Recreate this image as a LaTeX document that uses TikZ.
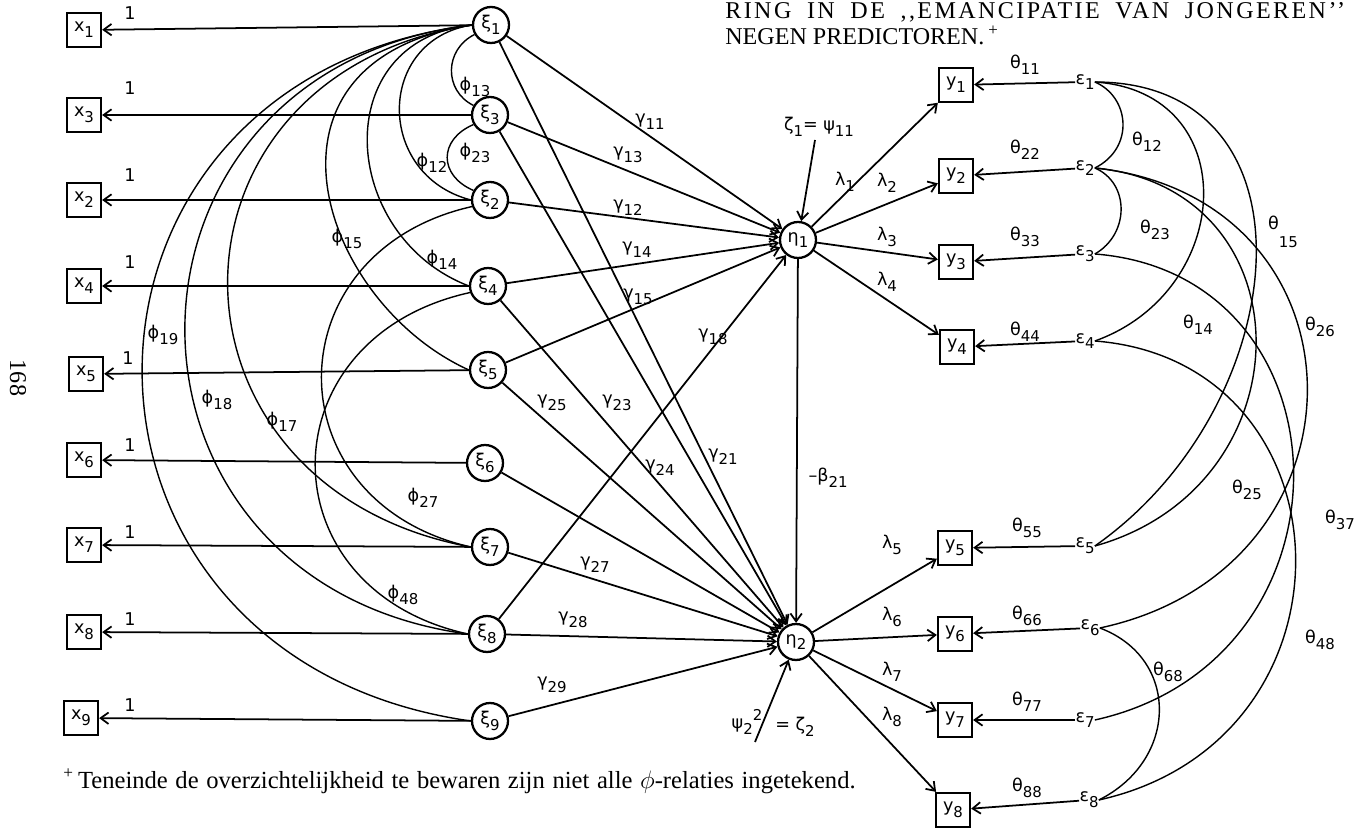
\documentclass[tikz,border=0pt]{standalone}
\usepackage{fontspec}
\setmainfont{Liberation Serif}
\newfontfamily\typfont{DejaVu Sans}
\newfontfamily\spacedfont[LetterSpace=10]{Liberation Serif}
\usetikzlibrary{arrows.meta}
\newcommand{\ix}[2]{#1\raisebox{-0.6ex}{\fontsize{8.5}{10}\selectfont #2}}
\begin{document}
\begin{tikzpicture}[x=0.02cm, y=-0.02cm,
	every node/.style={font=\typfont\fontsize{10}{12}\selectfont},
	obs/.style={draw, line width=1.3pt, minimum size=0.68cm, inner sep=0pt},
	lat/.style={draw, circle, line width=1.3pt, minimum size=0.72cm, inner sep=0pt},
	lab/.style={inner sep=0pt},
	arr/.style={line width=1pt, -{Straight Barb[length=4.5pt,width=6.5pt]}},
	cov/.style={line width=0.8pt},
	serif/.style={font=\rmfamily\fontsize{13.7}{16}\selectfont, inner sep=0pt}]
	\useasboundingbox (0,0) rectangle (1359,830);
	\node[serif, font=\spacedfont\fontsize{13.7}{16}\selectfont, anchor=base west] (ttl1) at (725,19) {\makebox[12.4cm][s]{RING IN DE ,,EMANCIPATIE VAN JONGEREN’’}};
	\node[serif, anchor=base west] (ttl2) at (725,45) {NEGEN PREDICTOREN.\,\textsuperscript{+}};
	\node[serif, rotate=-90] (pg) at (18,378) {168};
	\node[serif, font=\rmfamily\fontsize{14}{17}\selectfont, anchor=base west] (note) at (63,788) {\makebox[15.85cm][s]{\textsuperscript{+}\,Teneinde de overzichtelijkheid te bewaren zijn niet alle $\phi$-relaties ingetekend.}};
	\node[obs] (x1) at (84,30) {\ix{x}{1}};
	\node[obs] (x3) at (84,115) {\ix{x}{3}};
	\node[obs] (x2) at (84,200) {\ix{x}{2}};
	\node[obs] (x4) at (84,286) {\ix{x}{4}};
	\node[obs] (x5) at (86,374) {\ix{x}{5}};
	\node[obs] (x6) at (84,460) {\ix{x}{6}};
	\node[obs] (x7) at (84,545) {\ix{x}{7}};
	\node[obs] (x8) at (84,632) {\ix{x}{8}};
	\node[obs] (x9) at (81,718) {\ix{x}{9}};
	\node[lat] (xi1) at (491,25) {\ix{ξ}{1}};
	\node[lat] (xi3) at (490,115) {\ix{ξ}{3}};
	\node[lat] (xi2) at (490,200) {\ix{ξ}{2}};
	\node[lat] (xi4) at (488,286) {\ix{ξ}{4}};
	\node[lat] (xi5) at (488,370) {\ix{ξ}{5}};
	\node[lat] (xi6) at (485,463) {\ix{ξ}{6}};
	\node[lat] (xi7) at (490,547) {\ix{ξ}{7}};
	\node[lat] (xi8) at (487,634) {\ix{ξ}{8}};
	\node[lat] (xi9) at (490,721) {\ix{ξ}{9}};
	\node[lat] (eta1) at (798,240) {\ix{η}{1}};
	\node[lat] (eta2) at (796,642) {\ix{η}{2}};
	\node[obs] (y1) at (956,85) {\ix{y}{1}};
	\node[obs] (y2) at (956,176) {\ix{y}{2}};
	\node[obs] (y3) at (956,262) {\ix{y}{3}};
	\node[obs] (y4) at (957,347) {\ix{y}{4}};
	\node[obs] (y5) at (955,548) {\ix{y}{5}};
	\node[obs] (y6) at (955,634) {\ix{y}{6}};
	\node[obs] (y7) at (955,720) {\ix{y}{7}};
	\node[obs] (y8) at (953,810) {\ix{y}{8}};
	\node[lab] (e1) at (1085,82) {\ix{ε}{1}};
	\node[lab] (e2) at (1085,168) {\ix{ε}{2}};
	\node[lab] (e3) at (1085,254) {\ix{ε}{3}};
	\node[lab] (e4) at (1085,341) {\ix{ε}{4}};
	\node[lab] (e5) at (1085,546) {\ix{ε}{5}};
	\node[lab] (e6) at (1090,628) {\ix{ε}{6}};
	\node[lab] (e7) at (1085,720) {\ix{ε}{7}};
	\node[lab] (e8) at (1089,800) {\ix{ε}{8}};
	\draw[arr] (xi1) -- (x1);
	\draw[arr] (xi3) -- (x3);
	\draw[arr] (xi2) -- (x2);
	\draw[arr] (xi4) -- (x4);
	\draw[arr] (xi5) -- (x5);
	\draw[arr] (xi6) -- (x6);
	\draw[arr] (xi7) -- (x7);
	\draw[arr] (xi8) -- (x8);
	\draw[arr] (xi9) -- (x9);
	\node[lab] at (130,13) {1};
	\node[lab] at (130,88) {1};
	\node[lab] at (130,175) {1};
	\node[lab] at (130,262) {1};
	\node[lab] at (128,358) {1};
	\node[lab] at (130,445) {1};
	\node[lab] at (130,532) {1};
	\node[lab] at (130,619) {1};
	\node[lab] at (130,705) {1};
	\draw[cov] (xi1.210) .. controls +(-30,15) and +(-30,-15) .. (xi3.150);
	\draw[cov] (xi3.210) .. controls +(-35,15) and +(-35,-15) .. (xi2.150);
	\draw[cov] (xi1.west) .. controls +(-96,15) and +(-96,-25) .. (xi2.west);
	\draw[cov] (xi1.west) .. controls +(-145,15) and +(-130,-50) .. (xi4.west);
	\draw[cov] (xi1.west) .. controls +(-232,35) and +(-150,-68) .. (xi5.west);
	\draw[cov] (xi1.west) .. controls +(-325,50) and +(-325,-60) .. (xi7.west);
	\draw[cov] (xi1.west) .. controls +(-380,45) and +(-380,-51) .. (xi8.west);
	\draw[cov] (xi1.west) .. controls +(-439,55) and +(-439,-62) .. (xi9.west);
	\draw[cov] (xi2.200) .. controls +(-200,45) and +(-200,-45) .. (xi7.west);
	\draw[cov] (xi4.200) .. controls +(-205,45) and +(-205,-45) .. (xi8.west);
	\node[lab] at (475,87) {\ix{ϕ}{13}};
	\node[lab] at (475,153) {\ix{ϕ}{23}};
	\node[lab] at (432,163) {\ix{ϕ}{12}};
	\node[lab] at (442,260) {\ix{ϕ}{14}};
	\node[lab] at (347,239) {\ix{ϕ}{15}};
	\node[lab] at (163,335) {\ix{ϕ}{19}};
	\node[lab] at (217,400) {\ix{ϕ}{18}};
	\node[lab] at (282,422) {\ix{ϕ}{17}};
	\node[lab] at (423,498) {\ix{ϕ}{27}};
	\node[lab] at (403,595) {\ix{ϕ}{48}};
	\draw[arr] (xi1) -- (eta1);
	\draw[arr] (xi3) -- (eta1);
	\draw[arr] (xi2) -- (eta1);
	\draw[arr] (xi4) -- (eta1);
	\draw[arr] (xi5) -- (eta1);
	\draw[arr] (xi8) -- (eta1);
	\draw[arr] (xi1) -- (eta2);
	\draw[arr] (xi3) -- (eta2);
	\draw[arr] (xi4) -- (eta2);
	\draw[arr] (xi5) -- (eta2);
	\draw[arr] (xi6) -- (eta2);
	\draw[arr] (xi7) -- (eta2);
	\draw[arr] (xi8) -- (eta2);
	\draw[arr] (xi9) -- (eta2);
	\node[lab] at (650,122) {\ix{γ}{11}};
	\node[lab] at (628,155) {\ix{γ}{13}};
	\node[lab] at (628,208) {\ix{γ}{12}};
	\node[lab] at (637,250) {\ix{γ}{14}};
	\node[lab] at (638,297) {\ix{γ}{15}};
	\node[lab] at (713,337) {\ix{γ}{18}};
	\node[lab] at (723,457) {\ix{γ}{21}};
	\node[lab] at (617,403) {\ix{γ}{23}};
	\node[lab] at (660,468) {\ix{γ}{24}};
	\node[lab] at (552,403) {\ix{γ}{25}};
	\node[lab] at (595,565) {\ix{γ}{27}};
	\node[lab] at (573,620) {\ix{γ}{28}};
	\node[lab] at (552,685) {\ix{γ}{29}};
	\draw[arr] (eta1) -- (eta2);
	\node[lab] at (828,478) {\ix{–β}{21}};
	\coordinate (z1) at (815,140);
	\draw[arr] (z1) -- (eta1);
	\node[lab] at (819,127) {\ix{ζ}{1}= \ix{ψ}{11}};
	\coordinate (z2) at (755,742);
	\draw[arr] (z2) -- (eta2);
	\node[lab] at (747,722) {\ix{ψ}{2}\raisebox{0.9ex}{\fontsize{8.5}{10}\selectfont 2}};
	\node[lab] at (795,727) {= \ix{ζ}{2}};
	\draw[arr] (eta1) -- (y1);
	\draw[arr] (eta1) -- (y2);
	\draw[arr] (eta1) -- (y3);
	\draw[arr] (eta1) -- (y4);
	\draw[arr] (eta2) -- (y5);
	\draw[arr] (eta2) -- (y6);
	\draw[arr] (eta2) -- (y7);
	\draw[arr] (eta2) -- (y8);
	\node[lab] at (845,182) {\ix{λ}{1}};
	\node[lab] at (887,183) {\ix{λ}{2}};
	\node[lab] at (887,237) {\ix{λ}{3}};
	\node[lab] at (887,282) {\ix{λ}{4}};
	\node[lab] at (892,545) {\ix{λ}{5}};
	\node[lab] at (892,617) {\ix{λ}{6}};
	\node[lab] at (892,672) {\ix{λ}{7}};
	\node[lab] at (892,717) {\ix{λ}{8}};
	\draw[arr] (e1) -- (y1);
	\draw[arr] (e2) -- (y2);
	\draw[arr] (e3) -- (y3);
	\draw[arr] (e4) -- (y4);
	\draw[arr] (e5) -- (y5);
	\draw[arr] (e6) -- (y6);
	\draw[arr] (e7) -- (y7);
	\draw[arr] (e8) -- (y8);
	\node[lab] at (1025,65) {\ix{θ}{11}};
	\node[lab] at (1025,150) {\ix{θ}{22}};
	\node[lab] at (1025,237) {\ix{θ}{33}};
	\node[lab] at (1025,332) {\ix{θ}{44}};
	\node[lab] at (1027,528) {\ix{θ}{55}};
	\node[lab] at (1027,616) {\ix{θ}{66}};
	\node[lab] at (1027,702) {\ix{θ}{77}};
	\node[lab] at (1027,788) {\ix{θ}{88}};
	\draw[cov] (e1.east) .. controls +(35,15) and +(40,-20) .. (e2.east);
	\draw[cov] (e2.east) .. controls +(35,15) and +(35,-20) .. (e3.east);
	\draw[cov] (e1.east) .. controls +(150,10) and +(140,-50) .. (e4.east);
	\draw[cov] (e1.east) .. controls +(230,0) and +(200,-140) .. (e5.east);
	\draw[cov] (e2.east) .. controls +(215,20) and +(215,-60) .. (e5.east);
	\draw[cov] (e2.east) .. controls +(280,30) and +(280,-60) .. (e6.east);
	\draw[cov] (e3.east) .. controls +(260,20) and +(270,-60) .. (e7.east);
	\draw[cov] (e4.east) .. controls +(260,20) and +(270,-60) .. (e8.east);
	\draw[cov] (e6.east) .. controls +(80,30) and +(80,-40) .. (e8.east);
	\node[lab] at (1147,142) {\ix{θ}{12}};
	\node[lab] at (1155,230) {\ix{θ}{23}};
	\node[lab] at (1283,232) {θ\raisebox{-1.8ex}{\fontsize{8.5}{10}\selectfont 15}};
	\node[lab] at (1198,325) {\ix{θ}{14}};
	\node[lab] at (1320,327) {\ix{θ}{26}};
	\node[lab] at (1247,490) {\ix{θ}{25}};
	\node[lab] at (1340,520) {\ix{θ}{37}};
	\node[lab] at (1320,640) {\ix{θ}{48}};
	\node[lab] at (1168,672) {\ix{θ}{68}};
\end{tikzpicture}
\end{document}
